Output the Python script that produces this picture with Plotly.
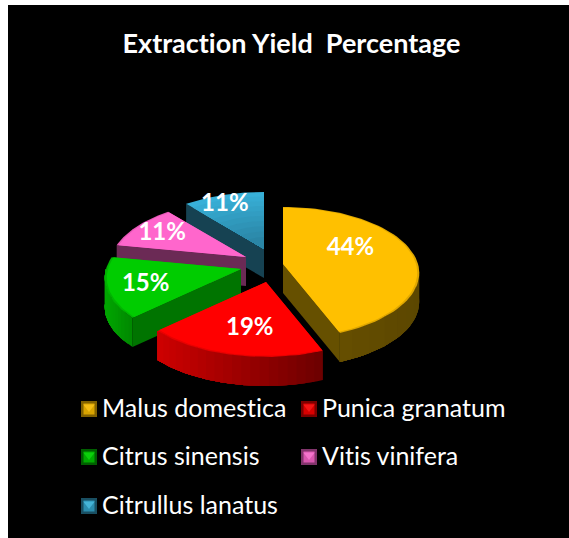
import math
import plotly.graph_objects as go

title = "Extraction Yield  Percentage"
categories = ["Malus domestica", "Punica granatum", "Citrus sinensis", "Vitis vinifera", "Citrullus lanatus"]
values = [44, 19, 15, 11, 11]
labels = [f"{v}%" for v in values]

# styling per slice
top_colors = ["#FFC000", "#FF0000", "#00CC00", "#FF66CC", "#33A9D0"]
rim_colors = ["#E0A800", "#E80000", "#00B400", "#E858B8", "#33A9D0"]
face_colors = ["#665000", "#7A0000", "#007400", "#6B2A55", "#164252"]
wall_left = ["#6E5600", "#D00000", "#00A800", "#6B2A55", "#164252"]
wall_right = ["#5C4700", "#6E0000", "#008A00", "#6B2A55", "#164252"]
swatch_dark = ["#B88A00", "#B00000", "#008800", "#B84A98", "#24708C"]
swatch_light = ["#FFC81E", "#FF2020", "#10E010", "#FF80D8", "#50C4E8"]

# layout geometry of the exploded 3D projection (pixels in the axis space)
apex_x = [283, 266, 241, 246, 264]
apex_y = [264, 282, 269, 257, 249]
label_frac = [0.5, 0.6, 0.73, 0.75, 0.8]
label_nudge_x = [2, 3, 2, -1, -6]
label_nudge_y = [-9, 6, 2, 1, 0]
legend_x = [89, 309, 89, 309, 89]
legend_y = [408, 456, 505]
legend_row = [0, 0, 1, 1, 2]
RX, RY, PERSP, DEPTH = 135, 64.8, 0.136, 29


def project(theta, scale=1.0):
    u, v = math.sin(theta) * scale, math.cos(theta) * scale
    s = 1 / (1 + PERSP * v)
    return RX * u * s, -RY * v * s


def mix(c1, c2, t):
    a = [int(c1[i:i + 2], 16) for i in (1, 3, 5)]
    b = [int(c2[i:i + 2], 16) for i in (1, 3, 5)]
    return "#%02X%02X%02X" % tuple(round(x + (y - x) * t) for x, y in zip(a, b))


fig = go.Figure()


def poly(xs, ys, color):
    fig.add_trace(go.Scatter(x=xs, y=ys, mode="lines", fill="toself", fillcolor=color,
                             line=dict(color=color, width=0), hoverinfo="skip", showlegend=False))


total = sum(values)
angles = []
a = 0.0
for v in values:
    b = a + v / total * 2 * math.pi
    angles.append((a, b))
    a = b

label_x, label_y = [], []
for i in [4, 3, 2, 1, 0]:
    t0, t1 = angles[i]
    cx, cy = apex_x[i], apex_y[i]
    n = 60
    thetas = [t0 + (t1 - t0) * k / n for k in range(n + 1)]
    arc = [project(t) for t in thetas]
    mx, my = arc[n // 2]
    # radial side faces
    for (ex, ey) in (arc[0], arc[-1]):
        nx, ny = -ey, ex
        if nx * mx + ny * my > 0:
            nx, ny = -nx, -ny
        if ny > 0.5:
            poly([cx, cx + ex, cx + ex, cx, cx], [cy, cy + ey, cy + ey + DEPTH, cy + DEPTH, cy], face_colors[i])
    # outer wall in bands shaded along the arc; each band runs to the end of
    # the visible arc so later bands overlap earlier ones without seams
    vis = [k for k in range(n) if math.cos((thetas[k] + thetas[k + 1]) / 2) < 0.0]
    if vis:
        lo, hi = min(p[0] for p in arc), max(p[0] for p in arc)
        for k in range(vis[0], vis[-1] + 1, 3):
            seg = arc[k:vis[-1] + 2]
            f = (arc[k][0] - lo) / max(1, hi - lo)
            xs = [cx + p[0] for p in seg] + [cx + p[0] for p in reversed(seg)]
            ys = [cy + p[1] for p in seg] + [cy + p[1] + DEPTH for p in reversed(seg)]
            poly(xs + xs[:1], ys + ys[:1], mix(wall_left[i], wall_right[i], f))

    def wedge(scale):
        pts = [project(t, scale) for t in thetas]
        return [cx] + [cx + p[0] for p in pts] + [cx], [cy] + [cy + p[1] for p in pts] + [cy]
    # top face: rim, then body; blue slice fades toward the apex
    if i == 4:
        for s in range(10):
            xs, ys = wedge(1 - s * 0.09)
            poly(xs, ys, mix("#38B0D8", "#2A86A6", s / 9))
    else:
        xs, ys = wedge(1.0)
        poly(xs, ys, rim_colors[i])
        xs, ys = wedge(0.985)
        poly(xs, ys, top_colors[i])
    tm = (t0 + t1) / 2
    px, py = project(tm, label_frac[i])
    label_x.append(cx + px + label_nudge_x[i])
    label_y.append(cy + py + label_nudge_y[i])

# value labels (collected in back-to-front slice order)
order = [4, 3, 2, 1, 0]
fig.add_trace(go.Scatter(x=label_x, y=label_y, mode="text", text=[labels[i] for i in order],
                         textfont=dict(family="Lato", size=24, color="white", weight=700),
                         textposition="middle center", hoverinfo="skip", showlegend=False))

# legend drawn in axis space so the row spacing matches
for i, name in enumerate(categories):
    lx, ly = legend_x[i], legend_y[legend_row[i]]
    fig.add_trace(go.Scatter(x=[lx, lx, lx], y=[ly + 1, ly + 1, ly - 1], mode="markers",
                             marker=dict(symbol=["square", "square", "triangle-down"],
                                         size=[16, 11, 10],
                                         color=[swatch_dark[i], top_colors[i], swatch_light[i]],
                                         line=dict(width=0)),
                             hoverinfo="skip", showlegend=False))
    fig.add_trace(go.Scatter(x=[lx + 13], y=[ly + 2.5], mode="text", text=[name], name=name,
                             textposition="middle right",
                             textfont=dict(family="Lato", size=25, color="white"),
                             hoverinfo="skip", showlegend=False))

fig.update_layout(
    width=569, height=538,
    margin=dict(l=8, r=0, t=5, b=0),
    paper_bgcolor="white", plot_bgcolor="black",
    title=dict(text=title, x=291.5 / 569, xanchor="center", y=1 - 44 / 538, yanchor="middle",
               font=dict(family="Lato", size=27, color="white", weight=700)),
    xaxis=dict(range=[8, 569], visible=False, fixedrange=True),
    yaxis=dict(range=[538, 5], visible=False, fixedrange=True),
)
post = ("document.body.style.margin='0';document.documentElement.style.overflow='hidden';"
        "var st=document.createElement('style');"
        "st.textContent='text{font-variant-ligatures:none !important;font-feature-settings:\"liga\" 0 !important;}';"
        "document.head.appendChild(st);")
fig.write_html("out.html", config=dict(displayModeBar=False), post_script=post)
